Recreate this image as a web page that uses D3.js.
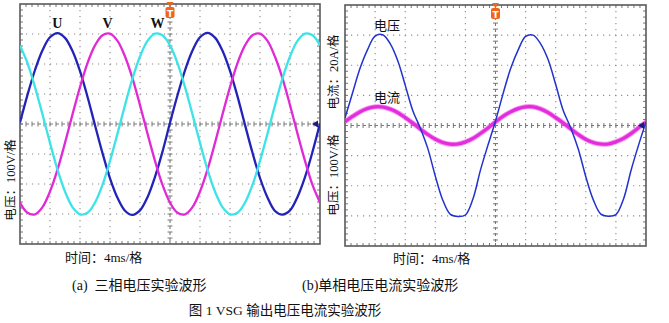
<!DOCTYPE html>
<html>
<head>
<meta charset="utf-8">
<script src="https://cdn.jsdelivr.net/npm/d3@7"></script>
<style>
  html, body { margin: 0; padding: 0; background: #fff; }
  svg { display: block; }
  text { font-family: "Liberation Serif", "Noto Sans CJK SC", serif; fill: #111; }
</style>
</head>
<body>
<svg id="chart" width="669" height="323"></svg>
<script>
// Sample instants (ms) shared by every trace: 10 divisions x 4 ms/div
const sampleTimesMs = [0,1,2,3,4,5,6,7,8,9,10,11,12,13,14,15,16,17,18,19,20,
                       21,22,23,24,25,26,27,28,29,30,31,32,33,34,35,36,37,38,39,40];

// (a) three-phase output voltage, V
const phaseU = [5,97,180,246,289,303,287,243,176,91,-4,-97,-181,-246,-289,-303,-288,-244,-176,-92,
                4,96,179,245,289,304,288,244,177,92,-3,-96,-180,-245,-290,-302,-288,-243,-177,-93,2];
const phaseV = [-262,-296,-301,-277,-225,-152,-63,32,123,203,262,296,301,277,225,152,63,-32,-123,-203,
                -262,-296,-301,-277,-225,-152,-63,32,123,203,262,296,301,277,224,152,63,-32,-123,-203,-262];
const phaseW = [262,203,123,32,-63,-152,-225,-277,-301,-296,-262,-203,-123,-32,63,152,225,277,301,296,
                262,203,123,32,-63,-152,-225,-277,-301,-296,-262,-203,-123,-32,63,152,225,277,301,296,262];
const phaseNames = ["U", "V", "W"];

// (b) single-phase voltage (V) and current (A)
const singleVoltage = [25,108,190,252,297,301,272,216,134,50,-8,-76,-168,-248,-295,-302,-297,-244,-148,-65,
                       15,105,188,250,296,300,271,218,136,50,-8,-78,-170,-247,-294,-301,-296,-245,-150,-66,12];
const singleCurrent = [2.6,6.0,9.1,11.3,12.4,12.3,10.9,8.6,5.3,1.6,-2.3,-6.0,-9.1,-11.3,-12.4,-12.3,-10.9,-8.6,-5.3,-1.6,
                       2.4,6.1,9.0,11.2,12.4,12.4,11.0,8.5,5.2,1.7,-2.2,-6.0,-9.2,-11.3,-12.3,-12.3,-10.8,-8.6,-5.4,-1.5,2.3];

// Scope settings (per-division scales)
const voltsPerDiv = 100;
const ampsPerDiv = 20;
const msPerDiv = 4;
const divisionsX = 10;
const divisionsY = 8;

// Text
const captionA = ["(a)  ", "三相电压实验波形"];
const captionB = ["(b)", "单相电压电流实验波形"];
const figureTitle = "图 1 VSG 输出电压电流实验波形";

const svg = d3.select("#chart");

const boxA = { x0: 20, x1: 320, y0: 4, y1: 244 };
const boxB = { x0: 345, x1: 646, y0: 5, y1: 246 };

function drawScope(box, id) {
  const g = svg.append("g");
  const w = box.x1 - box.x0, h = box.y1 - box.y0;
  const cx = box.x0 + w / 2, cy = box.y0 + h / 2;

  svg.append("clipPath").attr("id", id)
    .append("rect").attr("x", box.x0).attr("y", box.y0).attr("width", w).attr("height", h);

  // dotted graticule
  const gx = d3.range(1, divisionsX).filter(i => i !== divisionsX / 2).map(i => box.x0 + i * w / divisionsX);
  const gy = d3.range(1, divisionsY).filter(j => j !== divisionsY / 2).map(j => box.y0 + j * h / divisionsY);
  g.selectAll(".gv").data(gx).join("line")
    .attr("x1", d => d).attr("x2", d => d).attr("y1", box.y0).attr("y2", box.y1)
    .attr("stroke", "#8c8c8c").attr("stroke-width", 1.1).attr("stroke-dasharray", "1.2,4.8");
  g.selectAll(".gh").data(gy).join("line")
    .attr("x1", box.x0).attr("x2", box.x1).attr("y1", d => d).attr("y2", d => d)
    .attr("stroke", "#8c8c8c").attr("stroke-width", 1.1).attr("stroke-dasharray", "1.2,4.8");

  // centre axes with minor ticks
  g.append("line").attr("x1", box.x0).attr("x2", box.x1).attr("y1", cy).attr("y2", cy)
    .attr("stroke", "#7a7a7a").attr("stroke-width", 1.1).attr("stroke-dasharray", "3,3");
  g.append("line").attr("x1", cx).attr("x2", cx).attr("y1", box.y0).attr("y2", box.y1)
    .attr("stroke", "#7a7a7a").attr("stroke-width", 1.1).attr("stroke-dasharray", "3,3");
  const stepX = w / (divisionsX * 5), stepY = h / (divisionsY * 5);
  const mx = d3.range(1, divisionsX * 5).map(i => box.x0 + i * stepX);
  const my = d3.range(1, divisionsY * 5).map(j => box.y0 + j * stepY);
  g.selectAll(".mcx").data(mx).join("line")
    .attr("x1", d => d).attr("x2", d => d).attr("y1", cy - 2.5).attr("y2", cy + 2.5)
    .attr("stroke", "#777").attr("stroke-width", 1);
  g.selectAll(".mcy").data(my).join("line")
    .attr("y1", d => d).attr("y2", d => d).attr("x1", cx - 2.5).attr("x2", cx + 2.5)
    .attr("stroke", "#777").attr("stroke-width", 1);
  // frame ticks
  g.selectAll(".mt").data(mx).join("line")
    .attr("x1", d => d).attr("x2", d => d).attr("y1", box.y0).attr("y2", box.y0 + 3)
    .attr("stroke", "#777").attr("stroke-width", 1);
  g.selectAll(".mb").data(mx).join("line")
    .attr("x1", d => d).attr("x2", d => d).attr("y1", box.y1).attr("y2", box.y1 - 3)
    .attr("stroke", "#777").attr("stroke-width", 1);
  g.selectAll(".ml").data(my).join("line")
    .attr("y1", d => d).attr("y2", d => d).attr("x1", box.x0).attr("x2", box.x0 + 3)
    .attr("stroke", "#777").attr("stroke-width", 1);
  g.selectAll(".mr").data(my).join("line")
    .attr("y1", d => d).attr("y2", d => d).attr("x1", box.x1).attr("x2", box.x1 - 3)
    .attr("stroke", "#777").attr("stroke-width", 1);

  // frame
  g.append("rect").attr("x", box.x0).attr("y", box.y0).attr("width", w).attr("height", h)
    .attr("fill", "none").attr("stroke", "#5a5a5a").attr("stroke-width", 1.6);

  return { g, cx, cy };
}

function drawMarkers(box, cx, cy) {
  // trigger marker
  svg.append("path")
    .attr("d", `M${cx - 3.5},${box.y0 - 2}L${cx + 3.5},${box.y0 - 2}L${cx},${box.y0 + 3}Z`)
    .attr("fill", "#f0651c");
  svg.append("rect").attr("x", cx - 4.5).attr("y", box.y0 + 3).attr("width", 9).attr("height", 11)
    .attr("rx", 2).attr("fill", "#f0651c");
  svg.append("text").attr("x", cx).attr("y", box.y0 + 12.5).attr("text-anchor", "middle")
    .style("font-family", "DejaVu Sans").style("font-size", "9px").style("font-weight", "bold")
    .style("fill", "#fff").text("T");
  // ground-level marker
  svg.append("path")
    .attr("d", `M${box.x1 - 2},${cy - 3.5}L${box.x1 - 2},${cy + 3.5}L${box.x1 - 8},${cy}Z`)
    .attr("fill", "#1c1c7a");
}

// ---------- (a) three-phase ----------
const A = drawScope(boxA, "clipA");
const xA = d3.scaleLinear().domain([0, msPerDiv * divisionsX]).range([boxA.x0, boxA.x1]);
const yA = d3.scaleLinear().domain([-voltsPerDiv * divisionsY / 2, voltsPerDiv * divisionsY / 2]).range([boxA.y1, boxA.y0]);
const lineA = d3.line().x((d, i) => xA(sampleTimesMs[i])).y(d => yA(d)).curve(d3.curveCatmullRom.alpha(0.5));
const phaseColors = ["#2323b8", "#e02ad6", "#3de3e6"];
[phaseU, phaseV, phaseW].forEach((s, k) => {
  svg.append("path").attr("clip-path", "url(#clipA)").attr("d", lineA(s))
    .attr("fill", "none").attr("stroke", phaseColors[k]).attr("stroke-width", 2.3);
});
drawMarkers(boxA, A.cx, A.cy);

// phase labels above each first peak
[phaseU, phaseV, phaseW].forEach((s, k) => {
  const firstCycle = s.slice(0, 21);
  const iPeak = firstCycle.indexOf(d3.max(firstCycle));
  const prev = firstCycle[iPeak - 1] ?? firstCycle[iPeak], next = firstCycle[iPeak + 1] ?? firstCycle[iPeak];
  const shift = 0.5 * (prev - next) / (prev - 2 * firstCycle[iPeak] + next);
  svg.append("text").attr("x", xA(sampleTimesMs[iPeak] + shift)).attr("y", 28)
    .attr("text-anchor", "middle").style("font-size", "14px").style("font-weight", "bold")
    .text(phaseNames[k]);
});

svg.append("text").attr("transform", `translate(11,180) rotate(-90)`)
  .attr("text-anchor", "middle").attr("dominant-baseline", "central").style("font-size", "12.5px")
  .text(`电压：${voltsPerDiv}V/格`);
svg.append("text").attr("x", 65).attr("y", 262).style("font-size", "13px")
  .text(`时间：${msPerDiv}ms/格`);

// ---------- (b) single-phase ----------
const B = drawScope(boxB, "clipB");
const xB = d3.scaleLinear().domain([0, msPerDiv * divisionsX]).range([boxB.x0, boxB.x1]);
const yBv = d3.scaleLinear().domain([-voltsPerDiv * divisionsY / 2, voltsPerDiv * divisionsY / 2]).range([boxB.y1, boxB.y0]);
const yBi = d3.scaleLinear().domain([-ampsPerDiv * divisionsY / 2, ampsPerDiv * divisionsY / 2]).range([boxB.y1, boxB.y0]);
const lineBv = d3.line().x((d, i) => xB(sampleTimesMs[i])).y(d => yBv(d)).curve(d3.curveCatmullRom.alpha(0.5));
const lineBi = d3.line().x((d, i) => xB(sampleTimesMs[i])).y(d => yBi(d)).curve(d3.curveCatmullRom.alpha(0.5));

svg.append("path").attr("clip-path", "url(#clipB)").attr("d", lineBi(singleCurrent))
  .attr("fill", "none").attr("stroke", "#ee3ce6").attr("stroke-width", 5).attr("opacity", 0.55);
svg.append("path").attr("clip-path", "url(#clipB)").attr("d", lineBi(singleCurrent))
  .attr("fill", "none").attr("stroke", "#e32ddc").attr("stroke-width", 3.2);
svg.append("path").attr("clip-path", "url(#clipB)").attr("d", lineBv(singleVoltage))
  .attr("fill", "none").attr("stroke", "#2233cc").attr("stroke-width", 1.5);
drawMarkers(boxB, B.cx, B.cy);

svg.append("text").attr("x", 387).attr("y", 25).attr("text-anchor", "middle")
  .attr("dominant-baseline", "central").style("font-size", "13px").text("电压");
svg.append("text").attr("x", 387).attr("y", 97).attr("text-anchor", "middle")
  .attr("dominant-baseline", "central").style("font-size", "13px").text("电流");

svg.append("text").attr("transform", `translate(334,72) rotate(-90)`)
  .attr("text-anchor", "middle").attr("dominant-baseline", "central").style("font-size", "12.5px")
  .text(`电流：${ampsPerDiv}A/格`);
svg.append("text").attr("transform", `translate(334,175) rotate(-90)`)
  .attr("text-anchor", "middle").attr("dominant-baseline", "central").style("font-size", "12.5px")
  .text(`电压：${voltsPerDiv}V/格`);
svg.append("text").attr("x", 393).attr("y", 263).style("font-size", "13px")
  .text(`时间：${msPerDiv}ms/格`);

// ---------- captions ----------
const capA = svg.append("text").attr("x", 72).attr("y", 290).style("font-size", "14px").attr("xml:space", "preserve");
capA.append("tspan").text(captionA[0]);
capA.append("tspan").text(captionA[1]);
const capB = svg.append("text").attr("x", 302).attr("y", 290).style("font-size", "14px");
capB.append("tspan").text(captionB[0]);
capB.append("tspan").text(captionB[1]);
svg.append("text").attr("x", 285).attr("y", 315).attr("text-anchor", "middle")
  .style("font-size", "13.5px").attr("xml:space", "preserve").text(figureTitle);
</script>
</body>
</html>
